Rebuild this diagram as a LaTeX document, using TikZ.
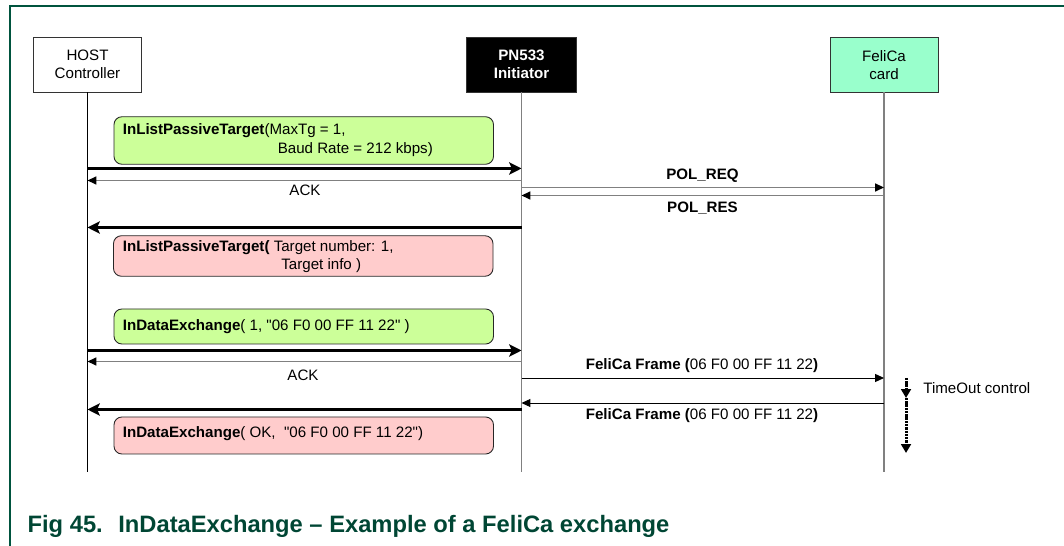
\documentclass[tikz,border=0pt]{standalone}
\usepackage{fontspec}
\setmainfont{Liberation Sans}[Ligatures=TeXOff]
\usepackage{tikz}
\usetikzlibrary{arrows.meta,positioning}
\definecolor{nxpgreen}{RGB}{0,84,62}
\definecolor{capgreen}{RGB}{0,70,52}
\definecolor{reqfill}{RGB}{204,255,153}
\definecolor{resfill}{RGB}{255,204,204}
\definecolor{cardfill}{RGB}{153,255,204}

\begin{document}
\begin{tikzpicture}[font=\fontsize{8.6}{10.3}\selectfont,>=Stealth,
 actor/.style={draw=black!80,line width=0.5pt,minimum width=2.16cm,
   minimum height=1.09cm,align=center,inner sep=1pt},
 life/.style={line width=0.8pt,draw=black!50},
 cmdbox/.style={draw=black!85,rounded corners=4.5pt,line width=0.5pt,
   minimum width=7.59cm,inner sep=0pt},
 call/.style={line width=1.5pt,-{Stealth[length=7pt,width=7pt,inset=1.5pt]}},
 reply/.style={line width=0.8pt,draw=black!50,
   -{Triangle[length=5pt,width=4.5pt,color=black]}},
 datamsg/.style={line width=0.5pt,-{Triangle[length=5pt,width=4.5pt]}},
 timeout/.style={line width=1.7pt,dash pattern=on 1.4pt off 0.45pt,
   -{Triangle[length=5pt,width=5.5pt]}},
 lbl/.style={inner sep=0pt,anchor=base west}]
\useasboundingbox (0,0) rectangle (21.28,10.92);
% Figure frame (top and left rule only).
\draw[nxpgreen,line width=0.9pt] (0.2,0) -- (0.2,10.8) -- (21.28,10.8);

\node[actor,fill=white] (host) at (1.75,9.625) {HOST\\Controller};
\node[actor,fill=black,text=white,minimum width=2.2cm,
 font=\fontsize{8.6}{10.3}\selectfont\bfseries] (pn) at (10.43,9.625)
 {PN533\\Initiator};
\node[actor,fill=cardfill] (card) at (17.68,9.625) {FeliCa\\card};

\foreach \n/\y in {req1/7.55,ack1/7.31,polreq/7.17,polres/7.01,res1/6.37,
  req2/3.91,ack2/3.69,fr1/3.36,fr2/2.86,res2/2.73,lifeend/1.48}
  \coordinate (\n) at (0,\y);

\draw[life,draw=black,line width=0.5pt] (host) -- (host |- lifeend);
\draw[life] (pn) -- (pn |- lifeend);
\draw[life] (card) -- (card |- lifeend);

% Target listing.
\node[cmdbox,fill=reqfill,minimum height=0.95cm] (listreq) at (6.075,8.11) {};
\node[lbl] (listreqa) at (2.45,8.22) {\textbf{InListPassiveTarget}(MaxTg = 1,};
\node[lbl] (listreqb) at (5.55,7.85) {Baud Rate = 212 kbps)};
\draw[call] (host |- req1) -- (pn |- req1);
\draw[reply] (pn |- ack1) -- (host |- ack1);
\node (ack1lbl) at (6.10,7.12) {ACK};
\draw[reply] (pn |- polreq) -- (card |- polreq);
\node[font=\fontsize{8.6}{10.3}\selectfont\bfseries] (polreqlbl) at (14.05,7.40) {POL\_REQ};
\draw[reply] (card |- polres) -- (pn |- polres);
\node[font=\fontsize{8.6}{10.3}\selectfont\bfseries] (polreslbl) at (14.05,6.75) {POL\_RES};
\draw[call] (pn |- res1) -- (host |- res1);
\node[cmdbox,fill=resfill,minimum height=0.81cm] (listres) at (6.065,5.80) {};
\node[lbl] (listresa) at (2.45,5.89) {\textbf{InListPassiveTarget(} Target number: 1,};
\node[lbl] (listresb) at (5.62,5.53) {Target info )};

% Data exchange.
\node[cmdbox,fill=reqfill,minimum height=0.70cm] (dxreq) at (6.075,4.39) {};
\node[lbl] (dxreqa) at (2.45,4.30) {\textbf{InDataExchange}( 1, "06 F0 00 FF 11 22" )};
\draw[call] (host |- req2) -- (pn |- req2);
\draw[reply] (pn |- ack2) -- (host |- ack2);
\node (ack2lbl) at (6.06,3.42) {ACK};
\draw[datamsg] (pn |- fr1) -- (card |- fr1);
\node[anchor=base,inner sep=0pt] (fr1lbl) at (14.04,3.52)
 {\textbf{FeliCa Frame (}06 F0 00 FF 11 22\textbf{)}};
\draw[datamsg] (card |- fr2) -- (pn |- fr2);
\node[anchor=base,inner sep=0pt] (fr2lbl) at (14.04,2.52)
 {\textbf{FeliCa Frame (}06 F0 00 FF 11 22\textbf{)}};
\draw[call] (pn |- res2) -- (host |- res2);
\node[cmdbox,fill=resfill,minimum height=0.74cm] (dxres) at (6.075,2.21) {};
\node[lbl] (dxresa) at (2.45,2.16) {\textbf{InDataExchange}( OK,\ \ "06 F0 00 FF 11 22")};

\coordinate (tout0) at (18.12,3.36);
\coordinate (tout1) at (18.12,2.96);
\coordinate (tout2) at (18.12,1.86);
\draw[timeout] (tout0) -- (tout1);
\draw[timeout] (tout1) -- (tout2);
\node[anchor=west,inner sep=0pt] (toutlbl) at (18.46,3.16) {TimeOut control};

\node[lbl,text=capgreen,font=\fontsize{13.5}{15}\selectfont\bfseries]
 (fignum) at (0.546,0.266) {Fig 45.};
\node[lbl,text=capgreen,font=\fontsize{13.5}{15}\selectfont\bfseries]
 (figtitle) at (2.36,0.266) {InDataExchange – Example of a FeliCa exchange};
\end{tikzpicture}
\end{document}
